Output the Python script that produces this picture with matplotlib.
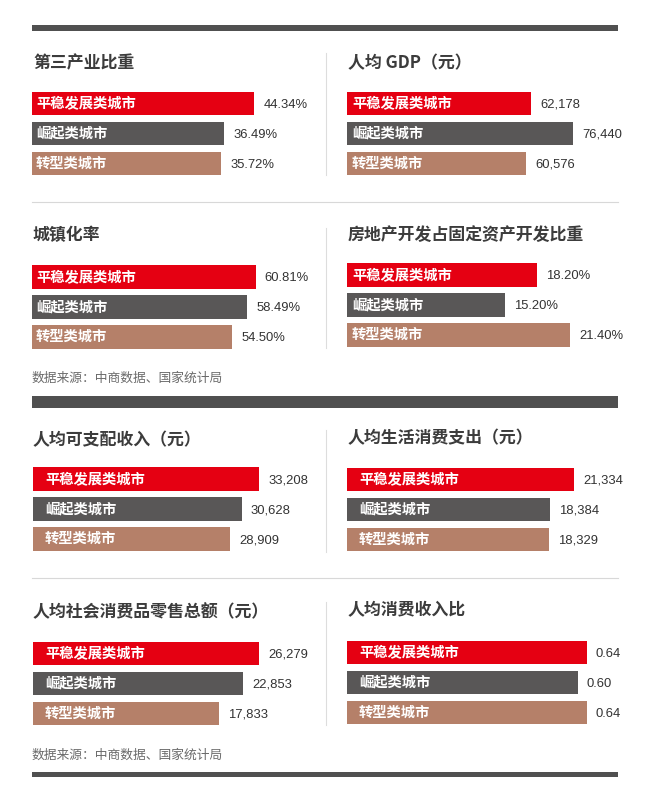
import matplotlib
matplotlib.use('Agg')
import matplotlib.pyplot as plt
from matplotlib.patches import Rectangle
from matplotlib.lines import Line2D
import numpy as np

plt.rcParams['font.family'] = ['Noto Sans CJK SC', 'DejaVu Sans']

# data
cities = ['平稳发展类城市', '崛起类城市', '转型类城市']
colors = ['#e50012', '#595757', '#b58069']

titles = ['第三产业比重', '人均 GDP（元）', '城镇化率', '房地产开发占固定资产开发比重',
          '人均可支配收入（元）', '人均生活消费支出（元）', '人均社会消费品零售总额（元）', '人均消费收入比']

tertiary = [44.34, 36.49, 35.72]
gdp = [62178, 76440, 60576]
urban = [60.81, 58.49, 54.50]
realty = [18.20, 15.20, 21.40]
income = [33208, 30628, 28909]
spending = [21334, 18384, 18329]
retail = [26279, 22853, 17833]
ratio = [0.64, 0.60, 0.64]

series = [tertiary, gdp, urban, realty, income, spending, retail, ratio]
formats = ['{:.2f}%', '{:,}', '{:.2f}%', '{:.2f}%', '{:,}', '{:,}', '{:,}', '{:.2f}']
# axis ranges for each panel (the original bars are drawn on a truncated scale)
axis_lo = [-14, 0, 0, 0, 0, -6000, -22000, -0.43]
axis_hi = [51.6, 84500, 68, 24, 36700, 24100, 31400, 0.685]

source = '数据来源：中商数据、国家统计局'

W, H = 660, 800
fig = plt.figure(figsize=(6.6, 8), dpi=100)

def fx(x):
    return x / W

def fy(y):
    return 1 - y / H

# panel layout in pixels: bar left, red bar centre, title y, label indent
layout = [
    (32, 103.5, 63, 4), (347, 103.5, 63, 5),
    (32, 277, 235, 4), (347, 275, 235, 5),
    (33, 479, 440, 12), (347, 479.5, 438, 12),
    (33, 653.5, 612, 12), (347, 652.5, 610, 12),
]
axw = 250

for k, (x0, yc, ty, ind) in enumerate(layout):
    vals = np.array(series[k], dtype=float)
    lo, hi = axis_lo[k], axis_hi[k]
    ax = fig.add_axes([fx(x0), fy(yc - 15 + 90), axw / W, 90 / H])
    y = np.arange(len(vals))
    ax.barh(y, vals - lo, left=lo, height=0.767, color=colors)
    ax.set_ylim(2.5, -0.5)
    ax.set_xlim(lo, hi)
    ax.axis('off')
    for i, v in enumerate(series[k]):
        ax.annotate(cities[i], xy=(0, i), xycoords=('axes fraction', 'data'),
                    xytext=(ind * 0.72, 0), textcoords='offset points',
                    va='center', ha='left', color='white', fontsize=10.3, fontweight='bold')
        ax.annotate(formats[k].format(v), xy=(v, i), xytext=(6.5, -1), textcoords='offset points',
                    va='center', ha='left', color='#333333', fontsize=9.4,
                    family=['Liberation Sans', 'DejaVu Sans'], annotation_clip=False)
    tx = 33 if x0 < 300 else 348
    fig.text(fx(tx), fy(ty), titles[k], ha='left', va='center', fontsize=12.2,
             fontweight='bold', color='#3c3c3c')

# thick dark rules
for top, h in [(25, 6), (396, 12), (772, 5)]:
    fig.add_artist(Rectangle((fx(32), fy(top + h)), fx(618) - fx(32), h / H,
                             transform=fig.transFigure, color='#505050', lw=0))

# thin horizontal separators
for yy in [202, 578]:
    fig.add_artist(Line2D([fx(32), fx(618)], [fy(yy), fy(yy)], transform=fig.transFigure,
                          color='#d8d8d8', lw=0.8))

# vertical separators
for y1, y2 in [(53, 175), (228, 348), (430, 552), (602, 725)]:
    fig.add_artist(Line2D([fx(325.5), fx(325.5)], [fy(y1), fy(y2)], transform=fig.transFigure,
                          color='#dddddd', lw=0.8))

for sy in [378, 755]:
    fig.text(fx(32), fy(sy), source, ha='left', va='center', fontsize=9.2, color='#6a6a6a')

fig.savefig('out.png', dpi=100, facecolor='white')
